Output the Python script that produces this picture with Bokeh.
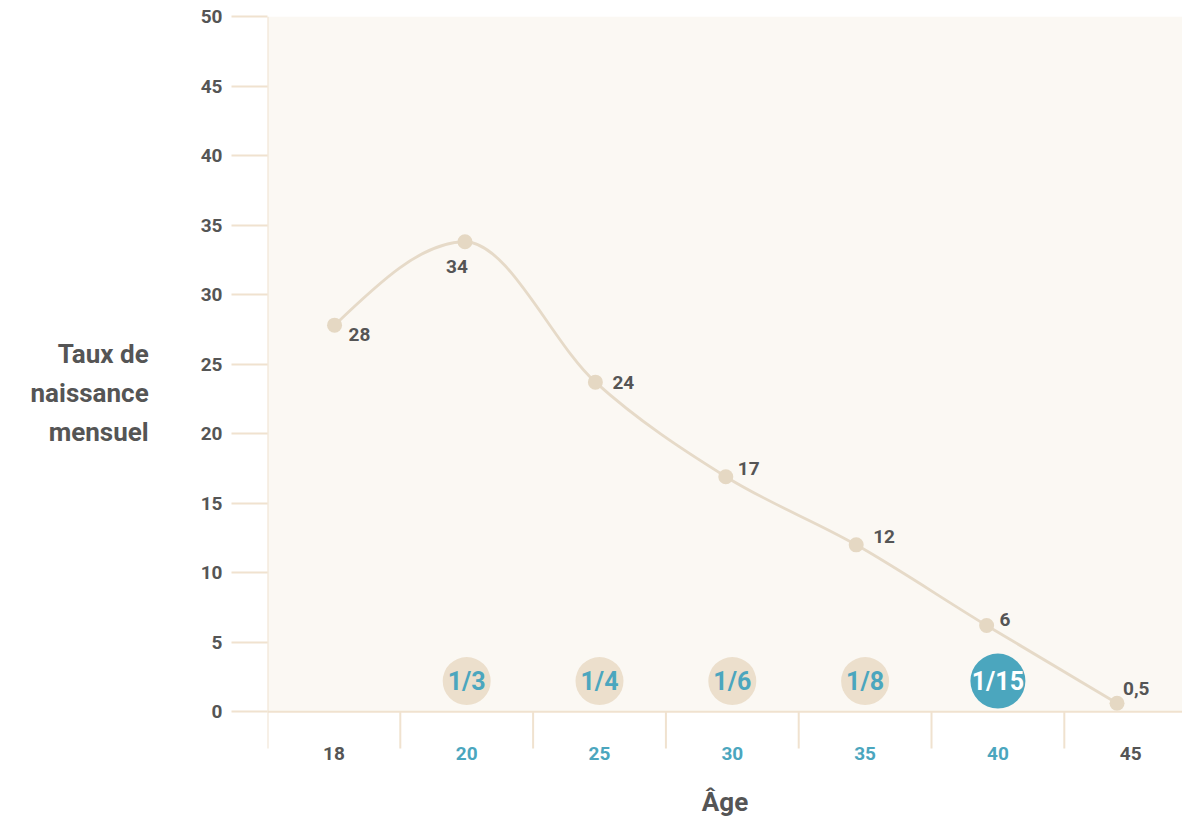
import numpy as np
from bokeh.plotting import figure
from bokeh.models import Range1d, FixedTicker, ColumnDataSource, Span
from bokeh.core.properties import value
from bokeh.embed import file_html
from bokeh.resources import INLINE

# ---------------- data ----------------
ages = ["18", "20", "25", "30", "35", "40", "45"]
rates = [27.8, 33.8, 23.7, 16.9, 12, 6.2, 0.6]      # plotted positions as read
rate_labels = ["28", "34", "24", "17", "12", "6", "0,5"]
odds_ages = ["20", "25", "30", "35", "40"]
odds = ["1/3", "1/4", "1/6", "1/8", "1/15"]
highlight_age = "40"
y_ticks = [0, 5, 10, 15, 20, 25, 30, 35, 40, 45, 50]
y_title = "Taux de\nnaissance\nmensuel"
x_title = "Âge"

# ---------------- styles ----------------
FONT = "Roboto"
TEXT = "#555555"
BLUE = "#4ba6be"
BUBBLE = "#ecdfcc"
POINT = "#e5d8c3"
LINE = "#e6dac8"
AXIS = "#f0e2cf"
GRID = "#e9d9c3"
BG = "#fbf8f3"

# label offsets (screen px, y down) and alignment for each data label
lab_dx = [14, -8, 17, 12, 17, 13, 6]
lab_dy = [9, 25, 0, -8, -8, -6, -15]
lab_align = ["left", "center", "left", "left", "left", "left", "left"]

n = len(ages)
centers = np.arange(n) + 0.5
px = 0.505 + 0.982 * np.arange(n)   # point positions along the band scale
ry = np.array(rates, dtype=float)

p = figure(width=1182, height=819, output_backend="svg", toolbar_location=None,
           x_range=Range1d(0, 6.89), y_range=Range1d(-4.16, 50),
           min_border_left=267, min_border_right=0, min_border_top=16,
           min_border_bottom=48)
p.background_fill_color = "white"
p.border_fill_color = "white"
p.outline_line_color = None

# plot area background
p.quad(left=0, right=7, bottom=0, top=50, fill_color=BG, line_color=None)

# grid
p.xgrid.visible = False
p.ygrid.ticker = FixedTicker(ticks=y_ticks[1:])
p.ygrid.grid_line_color = GRID
p.ygrid.grid_line_dash = "2 3"
p.ygrid.grid_line_width = 1.5

# y axis
ya = p.yaxis[0]
ya.ticker = FixedTicker(ticks=y_ticks, minor_ticks=[])
ya.axis_line_color = None
ya.major_tick_out = 36
ya.major_tick_in = 0
ya.minor_tick_out = 0
ya.minor_tick_in = 0
ya.major_tick_line_color = AXIS
ya.major_tick_line_width = 2
ya.major_label_standoff = 9
ya.major_label_text_font = FONT
ya.major_label_text_font_style = "bold"
ya.major_label_text_font_size = "19px"
ya.major_label_text_color = TEXT
ya.axis_label = y_title
ya.axis_label_orientation = "horizontal"
ya.axis_label_standoff = 49
ya.axis_label_text_font = FONT
ya.axis_label_text_font_style = "bold"
ya.axis_label_text_font_size = "26px"
ya.axis_label_text_color = TEXT
ya.axis_label_text_line_height = 1.3

# x axis: title only
xa = p.xaxis[0]
xa.ticker = FixedTicker(ticks=[], minor_ticks=[])
xa.axis_line_color = None
xa.major_tick_out = 0
xa.major_tick_in = 0
xa.minor_tick_out = 0
xa.minor_tick_in = 0
xa.major_label_standoff = 0
xa.axis_label = x_title
xa.axis_label_standoff = 17
xa.axis_label_text_font = FONT
xa.axis_label_text_font_style = "bold"
xa.axis_label_text_font_size = "26px"
xa.axis_label_text_color = TEXT

# baseline, y axis line and category separators
p.add_layout(Span(location=0, dimension="width", line_color=AXIS, line_width=2))
p.segment(x0=[0], y0=[-2.65], x1=[0], y1=[50], line_color=AXIS, line_width=2)
bounds = np.arange(1, n + 1)
p.segment(x0=bounds, y0=np.full(n, -2.65), x1=bounds, y1=np.zeros(n),
          line_color=AXIS, line_width=2)

# category labels
cat_colors = [BLUE if a in odds_ages else TEXT for a in ages]
p.text(x=centers, y=np.full(n, -3.0), text=ages, text_color=cat_colors,
       text_font=value(FONT), text_font_style="bold", text_font_size="19px",
       text_align="center", text_baseline="middle")

# odds bubbles
bx = np.array([ages.index(a) + 0.5 for a in odds_ages])
by = np.full(len(odds_ages), 2.2)
is_hi = [a == highlight_age for a in odds_ages]
p.scatter(x=bx, y=by, size=[55 if h else 48 for h in is_hi],
          fill_color=[BLUE if h else BUBBLE for h in is_hi], line_color=None)
p.text(x=bx, y=by, text=odds, text_color=["white" if h else BLUE for h in is_hi],
       text_font=value(FONT), text_font_style="bold", text_font_size="25px",
       text_align="center", text_baseline="middle")

# monotone-x cubic curve (as bezier segments)
def monotone_beziers(x, y):
    m = len(x)
    t = np.zeros(m)
    for i in range(1, m - 1):
        h0 = x[i] - x[i - 1]
        h1 = x[i + 1] - x[i]
        s0 = (y[i] - y[i - 1]) / h0
        s1 = (y[i + 1] - y[i]) / h1
        pp = (s0 * h1 + s1 * h0) / (h0 + h1)
        sg = (-1 if s0 < 0 else 1) + (-1 if s1 < 0 else 1)
        t[i] = sg * min(abs(s0), abs(s1), 0.5 * abs(pp))
    h = x[1] - x[0]
    t[0] = (3 * (y[1] - y[0]) / h - t[1]) / 2
    h = x[-1] - x[-2]
    t[-1] = (3 * (y[-1] - y[-2]) / h - t[-2]) / 2
    dx = (x[1:] - x[:-1]) / 3
    return dict(x0=x[:-1], y0=y[:-1], x1=x[1:], y1=y[1:],
                cx0=x[:-1] + dx, cy0=y[:-1] + dx * t[:-1],
                cx1=x[1:] - dx, cy1=y[1:] - dx * t[1:])

p.bezier(source=ColumnDataSource(monotone_beziers(px, ry)),
         x0="x0", y0="y0", x1="x1", y1="y1", cx0="cx0", cy0="cy0",
         cx1="cx1", cy1="cy1", line_color=LINE, line_width=2.8)

p.scatter(x=px, y=ry, size=15, fill_color=POINT, line_color=None)

src = ColumnDataSource(dict(x=px, y=ry, t=rate_labels, dx=lab_dx, dy=lab_dy, al=lab_align))
p.text(x="x", y="y", text="t", x_offset="dx", y_offset="dy", text_align="al",
       source=src, text_color=TEXT, text_font=value(FONT), text_font_style="bold",
       text_font_size="19px", text_baseline="middle")

open("out.html", "w").write(file_html(p, INLINE))
